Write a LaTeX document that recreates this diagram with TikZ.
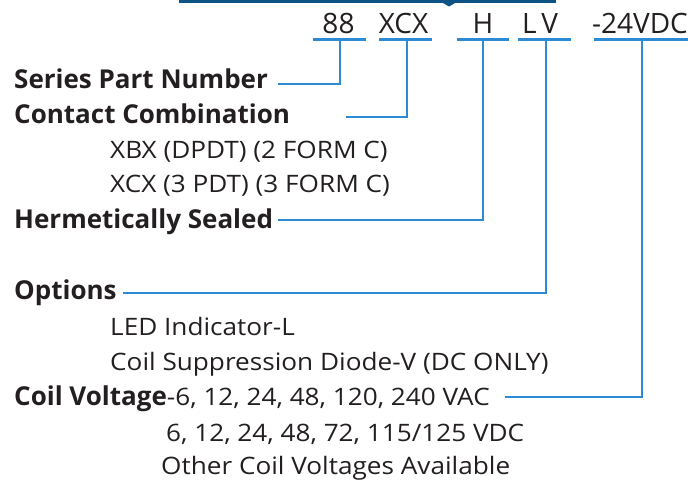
\documentclass[tikz,border=0pt]{standalone}
\usepackage{fontspec}
\setmainfont{Open Sans}
\newfontfamily\regfont[FakeStretch=1.09]{Open Sans}
\definecolor{txt}{HTML}{231F20}
\definecolor{lineblue}{HTML}{2E8BD3}
\definecolor{barblue}{HTML}{0D5386}
\begin{document}
\begin{tikzpicture}[x=1pt,y=-1pt,
  lbl/.style={anchor=base west,inner sep=0pt,text=txt},
  bold/.style={lbl,font=\fontsize{26}{26}\selectfont\bfseries},
  reg/.style={lbl,font=\regfont\fontsize{24}{24}\selectfont},
  code/.style={anchor=base,inner sep=0pt,text=txt,font=\fontsize{28}{28}\selectfont},
  uline/.style={draw=lineblue,line width=2.4pt},
  conn/.style={draw=lineblue,line width=1.8pt}]
\useasboundingbox (0,0) rectangle (688,485);
% top bar
\fill[barblue] (179,0) rectangle (556,3.3);
\fill[barblue] (443,3) -- (455,3) -- (449,6.5) -- cycle;
% code labels
\node[code] (c88) at (338.5,33.3) {88};
\node[code] (cxcx) at (403.5,33.3) {XCX};
\node[code] (ch) at (483,33.3) {H};
\node[code] (clv) at (540,33.3) {L\,V};
\node[code] (cv) at (640,33.3) {-24VDC};
% underlines
\draw[uline] (313,39.5) -- (366,39.5);
\draw[uline] (379,39.5) -- (432,39.5);
\draw[uline] (457,39.5) -- (509,39.5);
\draw[uline] (518,39.5) -- (571,39.5);
\draw[uline] (594,39.5) -- (688,39.5);
\coordinate (u1) at (340,39.5);
\coordinate (u2) at (407,39.5);
\coordinate (u3) at (483,39.5);
\coordinate (u4) at (546,39.5);
\coordinate (u5) at (642,39.5);
% left texts
\node[bold] (series) at (14,88.3) {Series Part Number};
\node[bold] (contact) at (14,123) {Contact Combination};
\node[reg] (xbx) at (110,158.3) {XBX (DPDT) (2 FORM C)};
\node[reg] (xcx) at (110,192) {XCX (3 PDT) (3 FORM C)};
\node[bold] (herm) at (14,228) {Hermetically Sealed};
\node[bold] (opt) at (14,299) {Options};
\node[reg] (led) at (110,335) {LED Indicator-L};
\node[reg] (diode) at (110,370) {Coil Suppression Diode-V (DC ONLY)};
\node[lbl] (coil) at (14,405) {\fontsize{26}{26}\selectfont\bfseries Coil Voltage\regfont\fontsize{24}{24}\mdseries\selectfont-6, 12, 24, 48, 120, 240 VAC};
\node[reg] (vdc) at (166,441) {6, 12, 24, 48, 72, 115/125 VDC};
\node[reg] (other) at (161,474) {Other Coil Voltages Available};
% connector ends
\coordinate (e1) at (278,84);
\coordinate (e2) at (346,117);
\coordinate (e3) at (278,220);
\coordinate (e4) at (123,293);
\coordinate (e5) at (505,397);
\draw[conn] (u1) |- (e1);
\draw[conn] (u2) |- (e2);
\draw[conn] (u3) |- (e3);
\draw[conn] (u4) |- (e4);
\draw[conn] (u5) |- (e5);
\end{tikzpicture}
\end{document}
